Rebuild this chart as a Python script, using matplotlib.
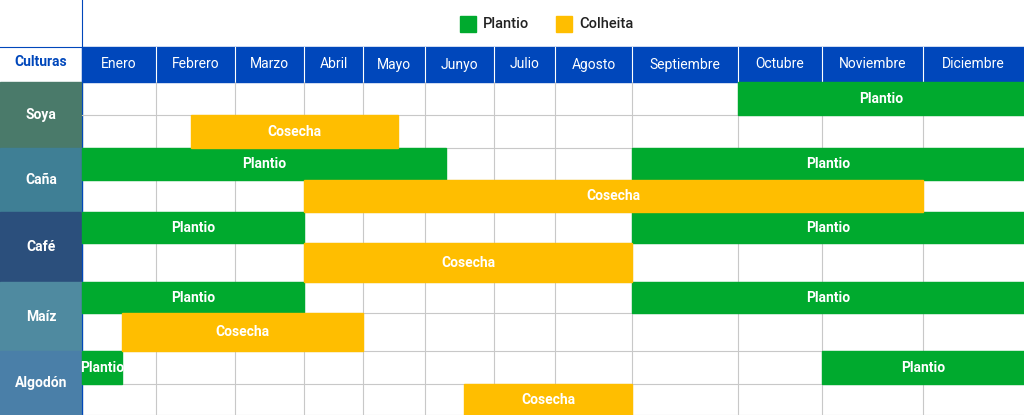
import matplotlib
matplotlib.use("Agg")
import matplotlib.pyplot as plt
import numpy as np
from matplotlib.patches import Rectangle

months = ["Enero","Febrero","Marzo","Abril","Mayo","Junyo","Julio","Agosto","Septiembre","Octubre","Noviembre","Diciembre"]
crops = ["Soya","Caña","Café","Maíz","Algodón"]
# (crop index, row 0=Plantio/1=Cosecha, start month, end month) in month units
plantio = [(0,9.0,12.0),(1,0.0,5.3),(1,8.0,12.0),(2,0.0,3.0),(2,8.0,12.0),
           (3,0.0,3.0),(3,8.0,12.0),(4,0.0,0.54),(4,10.0,12.0)]
cosecha = [(0,1.44,4.56),(1,3.0,11.0),(2,3.0,8.0),(3,0.54,4.0),(4,5.57,8.0)]
legend_labels = ["Plantio","Colheita"]
bar_labels = ["Plantio","Cosecha"]

BLUE="#0047BB"; GREEN="#00AA2E"; YEL="#FFBE00"; GRID="#C8C8C8"
col_edges = np.array([82,156,235,304,363,425,494,555,632,738,822,923,1024])
row_edges = [82,115,148,180,212,243,282,313,351,384,415]
def mx(m):
    return np.interp(m, np.arange(13), col_edges)

fig = plt.figure(figsize=(10.24,4.15), dpi=100)
ax = fig.add_axes([0,0,1,1]); ax.set_xlim(0,1024); ax.set_ylim(415,0); ax.axis("off")

# header
ax.add_patch(Rectangle((82,47),942,35,color=BLUE))
for i,m in enumerate(months):
    ax.text((col_edges[i]+col_edges[i+1])/2,64.5,m,color="white",ha="center",va="center",fontsize=10,family="Roboto")
    if i>0: ax.plot([col_edges[i]]*2,[47,82],color="white",lw=0.8)
ax.text(41,62,"Culturas",color=BLUE,ha="center",va="center",fontsize=10,fontweight="bold",family="Roboto")
ax.plot([82,82],[0,415],color=BLUE,lw=0.8)
ax.plot([0,82],[47,47],color=BLUE,lw=0.8)

# grid
for y in row_edges[1:]:
    ax.plot([82,1024],[y,y],color=GRID,lw=0.8)
for x in col_edges[1:-1]:
    ax.plot([x,x],[82,415],color=GRID,lw=0.8)

# left crop cells
cell_cols = ["#4a7a6a","#3f7f95","#2b4f7c","#4f8aa0","#4a7fa8"]
for c,name in enumerate(crops):
    y0=row_edges[2*c]; y1=row_edges[2*c+2]
    ax.add_patch(Rectangle((0,y0),82,y1-y0,color=cell_cols[c]))
    ax.text(41,(y0+y1)/2,name,color="white",ha="center",va="center",fontsize=10,fontweight="bold",family="Roboto")

def draw(bars,row,color,label):
    for c,s,e in bars:
        y0=row_edges[2*c+row]; y1=row_edges[2*c+row+1]
        x0=mx(s); x1=mx(e)
        ax.add_patch(Rectangle((x0,y0),x1-x0,y1-y0,color=color,zorder=3))
        ax.text((x0+x1)/2,(y0+y1)/2,label,color="white",ha="center",va="center",
                fontsize=10,fontweight="bold",family="Roboto",zorder=4)
draw(plantio,0,GREEN,bar_labels[0])
draw(cosecha,1,YEL,bar_labels[1])

# legend
ax.add_patch(Rectangle((460,16),16,16,color=GREEN))
ax.text(483,24,legend_labels[0],va="center",fontsize=10.5,family="Roboto",fontweight="medium",color="#222")
ax.add_patch(Rectangle((556,16),16,16,color=YEL))
ax.text(579,24,legend_labels[1],va="center",fontsize=10.5,family="Roboto",fontweight="medium",color="#222")

fig.savefig("out.png",dpi=100)
